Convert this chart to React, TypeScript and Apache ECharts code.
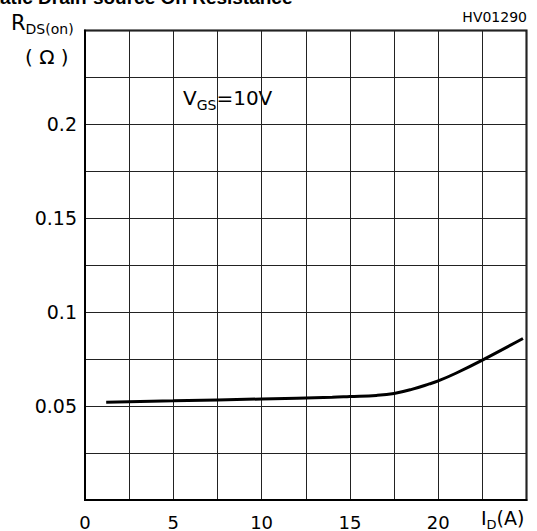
import React, { useEffect, useRef } from "react";
import * as echarts from "echarts";

const drainCurrent = [1.2, 5, 10, 14, 15, 16.5, 17.5, 18.5, 19.5, 20, 21, 22.5, 24.8];
const resistance = [0.0521, 0.0528, 0.0538, 0.0547, 0.0551, 0.0557, 0.0567, 0.0589, 0.0618, 0.0634, 0.0675, 0.0745, 0.086];
const xTickLabels = [0, 5, 10, 15, 20];
const yTickLabels = [0.05, 0.1, 0.15, 0.2];

const FONT = "DejaVu Sans";
const TITLE_FONT = "Liberation Sans";

export default function App() {
  const ref = useRef<HTMLDivElement>(null);
  useEffect(() => {
    if (!ref.current) return;
    const chart = echarts.init(ref.current, null, { renderer: "svg" });
    const near = (v: number, arr: number[]) => arr.find((a) => Math.abs(a - v) < 1e-6);
    chart.setOption({
      animation: false,
      backgroundColor: "#fff",
      grid: {
        left: 85,
        right: 10.5,
        top: 30.5,
        bottom: 31,
        show: true,
        borderColor: "#000",
        borderWidth: 2,
        containLabel: false,
      },
      xAxis: {
        type: "value",
        min: 0,
        max: 25,
        interval: 2.5,
        axisLine: { show: true, lineStyle: { color: "#000", width: 2 } },
        axisTick: { show: false },
        splitLine: { show: true, lineStyle: { color: "#222", width: 1 } },
        axisLabel: {
          color: "#000",
          fontFamily: FONT,
          fontSize: 18,
          margin: 13,
          formatter: (v: number) => {
            const t = near(v, xTickLabels);
            return t === undefined ? "" : String(t);
          },
        },
      },
      yAxis: {
        type: "value",
        min: 0,
        max: 0.25,
        interval: 0.025,
        axisLine: { show: true, lineStyle: { color: "#000", width: 2 } },
        axisTick: { show: false },
        splitLine: { show: true, lineStyle: { color: "#222", width: 1 } },
        axisLabel: {
          color: "#000",
          fontFamily: FONT,
          fontSize: 19,
          margin: 8,
          formatter: (v: number) => {
            const t = near(v, yTickLabels);
            return t === undefined ? "" : String(t);
          },
        },
      },
      series: [
        {
          type: "line",
          data: drainCurrent.map((x, i) => [x, resistance[i]]),
          smooth: 0.4,
          showSymbol: false,
          symbol: "none",
          lineStyle: { color: "#000", width: 3 },
          silent: true,
        },
      ],
      graphic: [
        {
          type: "text",
          left: -19,
          top: -12,
          style: {
            text: "Static Drain-source On Resistance",
            font: `bold 19px "${TITLE_FONT}"`,
            fill: "#000",
          },
        },
        {
          type: "text",
          right: 10,
          top: 10,
          style: {
            text: "HV01290",
            font: `14px "${FONT}"`,
            fill: "#000",
          },
        },
        {
          type: "text",
          left: 11,
          top: 12,
          style: {
            text: "{r|R}{s|DS(on)}",
            rich: {
              r: { fontFamily: FONT, fontSize: 21, fill: "#000", verticalAlign: "bottom" },
              s: { fontFamily: FONT, fontSize: 14, fill: "#000", verticalAlign: "bottom", padding: [0, 0, -3, 0] },
            },
          },
        },
        {
          type: "text",
          left: 25,
          top: 47,
          style: {
            text: "( Ω )",
            font: `20px "${FONT}"`,
            fill: "#000",
          },
        },
        {
          type: "text",
          left: 183,
          top: 88,
          style: {
            text: "{v|V}{s|GS}{v|=10V}",
            rich: {
              v: { fontFamily: FONT, fontSize: 20, fill: "#000", verticalAlign: "bottom" },
              s: { fontFamily: FONT, fontSize: 14, fill: "#000", verticalAlign: "bottom", padding: [0, 0, -4, 0] },
            },
          },
        },
        {
          type: "text",
          left: 481,
          top: 508,
          style: {
            text: "{v|I}{s|D}{v|(A)}",
            rich: {
              v: { fontFamily: FONT, fontSize: 19, fill: "#000", verticalAlign: "bottom" },
              s: { fontFamily: FONT, fontSize: 13, fill: "#000", verticalAlign: "bottom", padding: [0, 0, -4, 0] },
            },
          },
        },
      ],
    });
    return () => chart.dispose();
  }, []);
  return (
    <div
      ref={ref}
      style={{ position: "fixed", left: 0, top: 0, width: 537, height: 531 }}
    />
  );
}
